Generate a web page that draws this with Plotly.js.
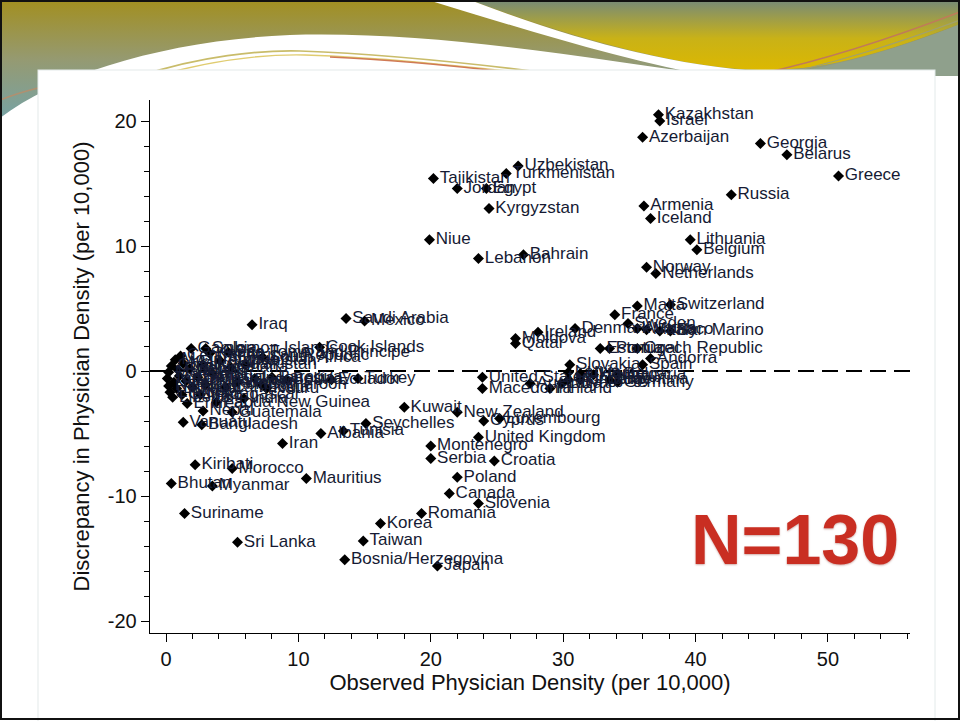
<!DOCTYPE html>
<html>
<head>
<meta charset="utf-8">
<script src="https://cdn.plot.ly/plotly-3.0.1.min.js"></script>
<style>
  html, body { margin: 0; padding: 0; background: #ffffff; }
  #wrap { position: relative; width: 960px; height: 721px; overflow: hidden; }
  #bg { position: absolute; left: 0; top: 0; }
  #chart { position: absolute; left: 0; top: 0; width: 960px; height: 721px; }
</style>
</head>
<body>
<div id="wrap">
<svg id="bg" width="960" height="721" viewBox="0 0 960 721" xmlns="http://www.w3.org/2000/svg">
  <defs>
    <linearGradient id="olive" x1="0" y1="0" x2="0" y2="1">
      <stop offset="0" stop-color="#a28f20"/>
      <stop offset="0.5" stop-color="#959a72"/>
      <stop offset="1" stop-color="#76a3a6"/>
    </linearGradient>
    <linearGradient id="yellow" x1="0" y1="0" x2="0" y2="1">
      <stop offset="0" stop-color="#768a78"/>
      <stop offset="0.55" stop-color="#c9b217"/>
      <stop offset="1" stop-color="#dcb800"/>
    </linearGradient>
  </defs>
  <rect x="0" y="0" width="960" height="721" fill="#ffffff"/>
  <path d="M 0 0 L 960 0 L 960 76 L 40 76 L 40 120 L 0 120 Z" fill="url(#olive)"/>
  <path d="M 470 0 C 580 40, 680 68, 760 70 C 830 71, 890 50, 960 24 L 960 0 Z" fill="url(#yellow)"/>
  <path d="M 960 24 C 900 48, 840 66, 780 74 L 960 76 Z" fill="#8fa08c"/>
  <path d="M 428 0 L 470 0 C 575 40, 670 66, 770 72 L 720 78 C 620 60, 520 28, 428 0 Z" fill="#ffffff"/>
  <path d="M 0 118 C 60 72, 170 40, 290 35 C 430 31, 570 55, 730 78 L 730 140 L 0 140 Z" fill="#ffffff"/>
  <path d="M 140 76 C 200 56, 260 50, 300 51 C 380 54, 460 62, 540 72" fill="none" stroke="#c9bc6a" stroke-width="1.6"/>
  <path d="M 145 79 C 210 60, 260 54, 305 55 C 390 58, 460 66, 545 75" fill="none" stroke="#e0cc70" stroke-width="1.4"/>
  <path d="M 330 57 C 400 60, 460 66, 540 76" fill="none" stroke="#d07a55" stroke-width="1.4"/>
  <path d="M 960 12 C 900 35, 820 62, 750 76" fill="none" stroke="#c07a5a" stroke-width="1.4"/>
  <path d="M 960 20 C 900 42, 830 66, 760 78" fill="none" stroke="#a0a070" stroke-width="1.2"/>
  <path d="M 0 100 C 10 96, 22 92, 38 88" fill="none" stroke="#b09070" stroke-width="1.4"/>
  <rect x="38" y="70" width="897" height="660" fill="#ffffff" stroke="#e3eaea" stroke-width="1"/>
  <rect x="1" y="1" width="958" height="718" fill="none" stroke="#111111" stroke-width="2"/>
</svg>
<div id="chart"></div>
</div>
<script>
// Country labels
const countries = [
  "Kazakhstan","Israel","Azerbaijan","Georgia","Belarus","Greece","Russia","Armenia","Iceland","Lithuania",
  "Belgium","Norway","Netherlands","Uzbekistan","Turkmenistan","Tajikistan","Jordan","Egypt","Kyrgyzstan","Niue",
  "Lebanon","Bahrain","Saudi Arabia","Mexico","Iraq","Cook Islands","Malta","Switzerland","France","Sweden",
  "Austria","Monaco","Italy","San Marino","Denmark","Ireland","Moldova","Qatar","Estonia","Portugal",
  "Czech Republic","Andorra","Slovakia","Spain","Latvia","Ukraine","Hungary","Bulgaria","United States","Australia",
  "Mongolia","Uruguay","Argentina","Germany","Macedonia","Finland","Libya","Kuwait","New Zealand","Cyprus",
  "Luxembourg","United Kingdom","Montenegro","Serbia","Croatia","Poland","Canada","Slovenia","Romania","Korea",
  "Taiwan","Bosnia/Herzegovina","Japan","Seychelles","Tunisia","Albania","Iran","Mauritius","Kiribati","Morocco",
  "Bhutan","Myanmar","Suriname","Sri Lanka","Turkey","Bangladesh","Vanuatu","Nepal","Guatemala","India",
  "Nauru","South Africa","Sao Tome and Principe","Solomon Islands","Paraguay","Bolivia","Ecuador","Malawi","Tanzania","Niger",
  "Ethiopia","Chad","Liberia","Sierra Leone","Mozambique","Burundi","Rwanda","Somalia","Central African Republic","Guinea",
  "Mali","Burkina Faso","Eritrea","Benin","Togo","Gambia","Senegal","Madagascar","Uganda","Zambia",
  "Kenya","Haiti","Papua New Guinea","Afghanistan","Cambodia","Ghana","Yemen","Pakistan","Indonesia","Cameroon"
];
// Observed physician density (per 10,000)
const observed = [
  37.2,37.3,36.0,44.9,46.9,50.8,42.7,36.1,36.6,39.6,
  40.1,36.3,37.0,26.6,25.7,20.2,22.0,24.2,24.4,19.9,
  23.6,27.0,13.6,15.0,6.5,11.6,35.6,38.1,33.9,34.9,
  35.6,36.3,37.3,38.1,30.9,28.1,26.4,26.4,32.8,33.5,
  35.6,36.6,30.5,36.0,30.4,31.3,32.3,34.1,23.9,27.5,
  30.4,31.3,33.5,34.1,23.9,29.0,29.9,18.0,22.0,24.0,
  25.2,23.6,20.0,20.0,24.8,22.0,21.4,23.6,19.3,16.2,
  14.9,13.5,20.5,15.1,13.4,11.7,8.8,10.6,2.2,5.0,
  0.4,3.5,1.4,5.4,14.5,2.7,1.3,2.8,5.0,5.9,
  7.6,7.3,4.7,3.0,8.0,9.1,12.5,0.2,0.1,0.2,
  0.3,0.4,0.5,0.6,0.7,0.8,0.9,1.0,1.1,1.2,
  1.3,1.5,1.6,1.8,2.0,1.9,2.4,2.6,2.8,3.0,
  3.3,3.5,3.8,4.1,4.5,4.9,5.4,6.0,6.7,7.2
];
// Discrepancy in physician density (per 10,000)
const discrepancy = [
  20.5,20.0,18.7,18.2,17.3,15.6,14.1,13.2,12.2,10.5,
  9.7,8.3,7.8,16.4,15.8,15.4,14.6,14.6,13.0,10.5,
  9.0,9.3,4.2,4.0,3.7,1.9,5.2,5.3,4.5,3.8,
  3.4,3.3,3.2,3.2,3.4,3.1,2.6,2.2,1.8,1.8,
  1.8,1.0,0.5,0.5,-0.1,-0.2,-0.3,-0.3,-0.5,-1.0,
  -0.7,-0.7,-0.7,-0.9,-1.4,-1.4,-1.0,-2.9,-3.3,-4.0,
  -3.8,-5.3,-6.0,-7.0,-7.2,-8.5,-9.8,-10.6,-11.4,-12.2,
  -13.6,-15.1,-15.6,-4.2,-4.8,-5.0,-5.8,-8.6,-7.5,-7.8,
  -9.0,-9.2,-11.4,-13.7,-0.6,-4.3,-4.1,-3.2,-3.3,-2.2,
  -1.4,1.1,1.5,1.8,-0.5,-0.7,-0.7,-0.1,-0.6,-1.2,
  -1.7,0.4,-2.1,-0.9,0.9,-1.4,0.1,-0.4,1.2,-1.9,
  0.6,-0.8,-2.6,0.2,-1.3,1.8,-0.5,-1.9,0.5,-1.1,
  1.4,-0.2,-2.5,0.8,-1.3,0.3,-0.9,0.5,-0.6,-1.1
];
const xTickVals = [0, 10, 20, 30, 40, 50];
const yTickVals = [-20, -10, 0, 10, 20];
const xTitle = "Observed Physician Density (per 10,000)";
const yTitle = "Discrepancy in Physician Density (per 10,000)";
const noteText = "N=130";

const trace = {
  type: "scatter",
  mode: "markers+text",
  x: observed,
  y: discrepancy,
  text: countries,
  textposition: "middle right",
  cliponaxis: false,
  marker: { symbol: "diamond", size: 8.5, color: "#000000", line: { width: 0 } },
  textfont: { family: "Liberation Sans, Arial, sans-serif", size: 17, color: "#151a33" },
  hoverinfo: "skip"
};

const axisFont = { family: "Liberation Sans, Arial, sans-serif", size: 20, color: "#111111" };

const layout = {
  width: 960,
  height: 721,
  paper_bgcolor: "rgba(0,0,0,0)",
  plot_bgcolor: "rgba(0,0,0,0)",
  margin: { l: 150, r: 50, t: 100, b: 88 },
  showlegend: false,
  xaxis: {
    range: [-1.21, 56.2],
    tickvals: xTickVals,
    ticktext: xTickVals.map(String),
    showgrid: false, zeroline: false,
    showline: true, linecolor: "#000000", linewidth: 1.3,
    ticks: "outside", ticklen: 8, tickwidth: 1, tickcolor: "#000000",
    minor: { dtick: 2, tick0: 0, ticks: "outside", ticklen: 5, tickwidth: 1, tickcolor: "#000000", showgrid: false },
    tickfont: axisFont,
    title: { text: xTitle, font: { family: "Liberation Sans, Arial, sans-serif", size: 22, color: "#111111" }, standoff: 2 },
    automargin: false
  },
  yaxis: {
    range: [-20.96, 21.68],
    tickvals: yTickVals,
    ticktext: yTickVals.map(String),
    showgrid: false, zeroline: false,
    showline: true, linecolor: "#000000", linewidth: 1.3,
    ticks: "outside", ticklen: 8, tickwidth: 1, tickcolor: "#000000",
    minor: { dtick: 2, tick0: 0, ticks: "outside", ticklen: 5, tickwidth: 1, tickcolor: "#000000", showgrid: false },
    tickfont: axisFont,
    title: { text: yTitle, font: { family: "Liberation Sans, Arial, sans-serif", size: 22, color: "#111111" }, standoff: 12 },
    automargin: false
  },
  shapes: [{
    type: "line", xref: "paper", x0: 0, x1: 1, yref: "y", y0: 0, y1: 0,
    line: { color: "#000000", width: 2, dash: "16px,8px" },
    layer: "below"
  }],
  annotations: [{
    xref: "paper", yref: "paper", x: 0.849, y: 0.1745,
    xanchor: "center", yanchor: "middle",
    text: noteText, showarrow: false,
    font: { family: "Liberation Sans, Arial, sans-serif", size: 70, weight: "bold", color: "#c92e22",
            shadow: "0px 1px 2px rgba(120,20,10,0.35)" }
  }]
};

Plotly.newPlot("chart", [trace], layout, { displayModeBar: false, staticPlot: true });
</script>
</body>
</html>
